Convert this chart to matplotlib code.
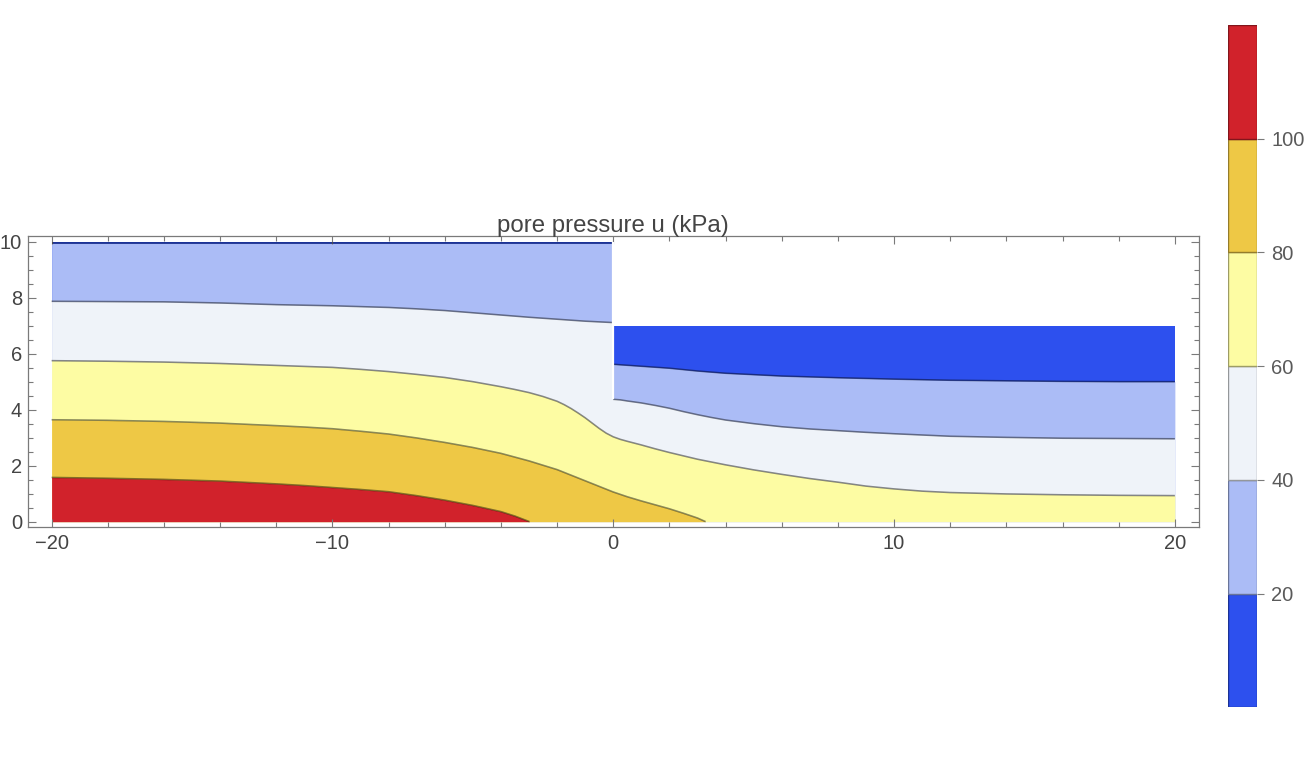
import matplotlib
matplotlib.use("Agg")
import matplotlib.pyplot as plt
from matplotlib.ticker import MultipleLocator
from matplotlib.colors import to_rgb

plt.rcParams['font.family'] = ['Liberation Sans', 'DejaVu Sans']

# ---------------- data ----------------
levels = [0, 20, 40, 60, 80, 100, 120]
band_colors = ['#2d50ee', '#abbcf6', '#eff3f9', '#fdfca3', '#eec845', '#d1222b']
cbar_ticks = [20, 40, 60, 80, 100]
x_ticks = [-20, -10, 0, 10, 20]
y_ticks = [0, 2, 4, 6, 8, 10]

# domains
left_x = [-20, 0]
left_top = [10.0, 10.0]
right_x = [0, 20]
right_top = [7.0, 7.0]

# contour lines (y position at sampled x)
top20_x = [-20, 0]
top20_y = [9.94, 9.94]

left40_x = [-20, -18, -16, -15, -14, -13, -12, -11, -10, -9, -8, -7, -6, -5, -4, -3, -2, -1, 0]
left40_y = [7.87, 7.86, 7.85, 7.83, 7.81, 7.78, 7.75, 7.73, 7.71, 7.68, 7.65, 7.60, 7.54, 7.46,
            7.38, 7.30, 7.23, 7.16, 7.11]

right20_x = [0, 1, 2, 3, 4, 5, 6, 7, 8, 10, 12, 14, 16, 18, 20]
right20_y = [5.62, 5.55, 5.48, 5.38, 5.30, 5.25, 5.20, 5.17, 5.14, 5.09, 5.05, 5.03, 5.01, 5.00, 5.00]

right40_x = [0, 0.25, 0.5, 1, 1.5, 2, 2.5, 3, 3.5, 4, 5, 6, 7, 8, 9, 10, 12, 14, 16, 18, 20]
right40_y = [4.37, 4.35, 4.31, 4.24, 4.15, 4.05, 3.93, 3.82, 3.72, 3.63, 3.50, 3.39, 3.31, 3.25,
             3.19, 3.14, 3.05, 3.01, 2.98, 2.97, 2.96]

c60_x = [-20, -18, -16, -14, -12, -10, -9, -8, -7, -6, -5, -4, -3.5, -3, -2.5, -2, -1.75, -1.5,
         -1.25, -1, -0.75, -0.5, -0.25, 0, 0.25, 0.5, 1, 1.5, 2, 3, 4, 5, 6, 7, 8, 9, 10, 11, 12,
         14, 16, 18, 20]
c60_y = [5.75, 5.73, 5.70, 5.65, 5.58, 5.51, 5.44, 5.36, 5.26, 5.15, 5.00, 4.82, 4.72, 4.61, 4.47,
         4.30, 4.18, 4.04, 3.88, 3.71, 3.52, 3.33, 3.16, 3.03, 2.94, 2.87, 2.74, 2.60, 2.47, 2.23,
         2.03, 1.85, 1.69, 1.54, 1.41, 1.27, 1.17, 1.09, 1.04, 0.99, 0.96, 0.94, 0.93]

c80_x = [-20, -18, -16, -14, -12, -11, -10, -9, -8, -7, -6, -5, -4, -3, -2, -1, 0, 0.5, 1, 1.5,
         2, 2.5, 3, 3.29]
c80_y = [3.64, 3.62, 3.58, 3.52, 3.43, 3.38, 3.32, 3.23, 3.13, 2.99, 2.83, 2.65, 2.44, 2.17, 1.86,
         1.46, 1.06, 0.89, 0.74, 0.60, 0.46, 0.30, 0.13, 0.0]

c100_x = [-20, -18, -16, -14, -13, -12, -11, -10, -9, -8, -7, -6, -5, -4, -3.5, -2.98]
c100_y = [1.58, 1.55, 1.51, 1.45, 1.40, 1.35, 1.29, 1.22, 1.15, 1.07, 0.93, 0.77, 0.58, 0.36,
          0.20, 0.0]

gap_x = [0, 0]
gap_y = [4.37, 10.0]

# ---------------- figure ----------------
W, H = 1316, 762
fig = plt.figure(figsize=(W / 100, H / 100), dpi=100)
ax = fig.add_axes([28.3 / W, 1 - 526.7 / H, (1199.3 - 28.3) / W, (526.7 - 235.5) / H])

kw = dict(linewidth=0, antialiased=True)
# bands spanning both domains (left curve followed by right curve, step at x=0)
ax.fill_between(left_x + right_x, 0, left_top + right_top, color=band_colors[0], **kw)
ax.fill_between(top20_x + right20_x, 0, top20_y + right20_y, color=band_colors[1], **kw)
ax.fill_between(left40_x + right40_x, 0, left40_y + right40_y, color=band_colors[2], **kw)
ax.fill_between(c60_x, 0, c60_y, color=band_colors[3], **kw)
ax.fill_between(c80_x, 0, c80_y, color=band_colors[4], **kw)
ax.fill_between(c100_x, 0, c100_y, color=band_colors[5], **kw)

line_kw = dict(color='black', alpha=0.45, linewidth=1.15, solid_capstyle='butt',
               solid_joinstyle='round')
for lx, ly in [(top20_x, top20_y), (left40_x, left40_y), (right20_x, right20_y),
               (right40_x, right40_y), (c60_x, c60_y), (c80_x, c80_y), (c100_x, c100_y)]:
    ax.plot(lx, ly, **line_kw)

ax.plot(gap_x, gap_y, color='white', linewidth=1.6, solid_capstyle='butt')

ax.set_xlim(-20.83, 20.87)
ax.set_ylim(-0.18, 10.22)
ax.set_xticks(x_ticks)
ax.set_yticks(y_ticks)
ax.xaxis.set_minor_locator(MultipleLocator(2))
ax.yaxis.set_minor_locator(MultipleLocator(0.5))
frame_col = '#7a7a7a'
for s in ax.spines.values():
    s.set_color(frame_col)
    s.set_linewidth(0.9)
ax.tick_params(which='both', direction='in', top=True, right=True, color=frame_col, width=0.8,
               labelsize=14.5, labelcolor='#444444')
ax.tick_params(which='major', length=5.5)
ax.tick_params(which='minor', length=3.5)
ax.tick_params(axis='x', which='major', pad=5.0)
ax.tick_params(axis='y', which='major', pad=4.6)

fig.text(613 / W, 1 - 232 / H, 'pore pressure u (kPa)', ha='center', va='baseline',
         fontsize=17.3, color='#444444')

# ---------------- colour bar ----------------
cax = fig.add_axes([1228.3 / W, 1 - 707.3 / H, 28.4 / W, (707.3 - 25) / H])
for i, c in enumerate(band_colors):
    dark = tuple(v * 0.62 for v in to_rgb(c))
    cax.bar(0, levels[i + 1] - levels[i], bottom=levels[i], width=1.0, color=c,
            edgecolor=dark, linewidth=1.0)
cax.set_xlim(-0.5, 0.5)
cax.set_ylim(levels[0], levels[-1])
for s in cax.spines.values():
    s.set_visible(False)
cax.set_xticks([])
cax.yaxis.tick_right()
cax.set_yticks(cbar_ticks)
cax.tick_params(axis='y', direction='out', length=5.3, width=0.8, color=frame_col,
                labelsize=14.5, labelcolor='#5a5a5a', pad=5)

fig.savefig('out.png', dpi=100)
